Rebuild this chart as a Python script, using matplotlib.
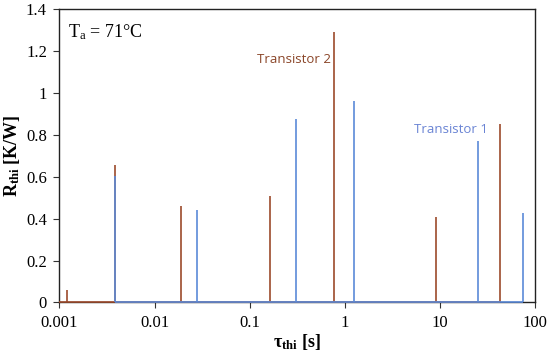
import numpy as np
import matplotlib
matplotlib.use("Agg")
import matplotlib.pyplot as plt
from matplotlib.ticker import FixedLocator, FixedFormatter, NullLocator

# time constants [s] and thermal resistances [K/W]
tau_t2 = [0.0012, 0.0038, 0.0188, 0.162, 0.766, 9.07, 42.9]
r_t2 = [0.06, 0.655, 0.46, 0.51, 1.29, 0.41, 0.85]

tau_t1 = [0.0038, 0.0277, 0.305, 1.24, 25.0, 74.8]
r_t1 = [0.605, 0.44, 0.875, 0.96, 0.77, 0.425]

xticks = [0.001, 0.01, 0.1, 1, 10, 100]
xtick_labels = ['0.001', '0.01', '0.1', '1', '10', '100']
yticks = [0, 0.2, 0.4, 0.6, 0.8, 1.0, 1.2, 1.4]
ytick_labels = ['0', '0.2', '0.4', '0.6', '0.8', '1', '1.2', '1.4']

c_t2 = '#9c4a2b'
c_t1 = '#5b8ad8'

plt.rcParams['font.family'] = 'Liberation Serif'
plt.rcParams['mathtext.fontset'] = 'custom'
plt.rcParams['mathtext.rm'] = 'Liberation Serif'
plt.rcParams['mathtext.bf'] = 'Liberation Serif:bold'
plt.rcParams['mathtext.it'] = 'Liberation Serif:italic'

fig = plt.figure(figsize=(5.5, 3.57), dpi=100)
ax = fig.add_axes([0.108, 0.153, 0.865, 0.821])

ax.hlines(0, xticks[0], tau_t2[-1], color=c_t2, lw=1.2, clip_on=False, zorder=3)
ax.vlines(tau_t2, 0, r_t2, color=c_t2, lw=1.2, zorder=3)
ax.hlines(0, tau_t1[0], tau_t1[-1], color=c_t1, lw=1.2, clip_on=False, zorder=4)
ax.vlines(tau_t1, 0, r_t1, color=c_t1, lw=1.2, zorder=4)

ax.set_xscale('log')
ax.set_xlim(0.001, 100)
ax.set_ylim(0, 1.4)
ax.xaxis.set_major_locator(FixedLocator(xticks))
ax.xaxis.set_major_formatter(FixedFormatter(xtick_labels))
ax.xaxis.set_minor_locator(NullLocator())
ax.yaxis.set_major_locator(FixedLocator(yticks))
ax.yaxis.set_major_formatter(FixedFormatter(ytick_labels))
ax.tick_params(axis='both', direction='out', length=4, width=0.8, labelsize=12, color='#333333')
ax.tick_params(axis='y', pad=5)
ax.tick_params(axis='x', pad=5)

for s in ax.spines.values():
    s.set_linewidth(1.0)
    s.set_color('#222222')

ax.set_xlabel(r'$\mathbf{\tau_{thi}}$ [s]', fontsize=13, fontweight='bold', labelpad=1)
ax.set_ylabel(r'$\mathbf{R_{thi}}$ [K/W]', fontsize=13, fontweight='bold', labelpad=3)

ax.text(0.018, 0.955, r'T$_\mathrm{a}$ = 71°C', transform=ax.transAxes,
        fontsize=13, va='top', ha='left')
ax.text(0.72, 1.16, 'Transistor 2', color='#8a4528', fontsize=9.5,
        family='Open Sans', ha='right', va='center')
ax.text(5.3, 0.825, 'Transistor 1', color='#6a84d4', fontsize=9.5,
        family='Open Sans', ha='left', va='center')

fig.savefig('out.png', dpi=100)
